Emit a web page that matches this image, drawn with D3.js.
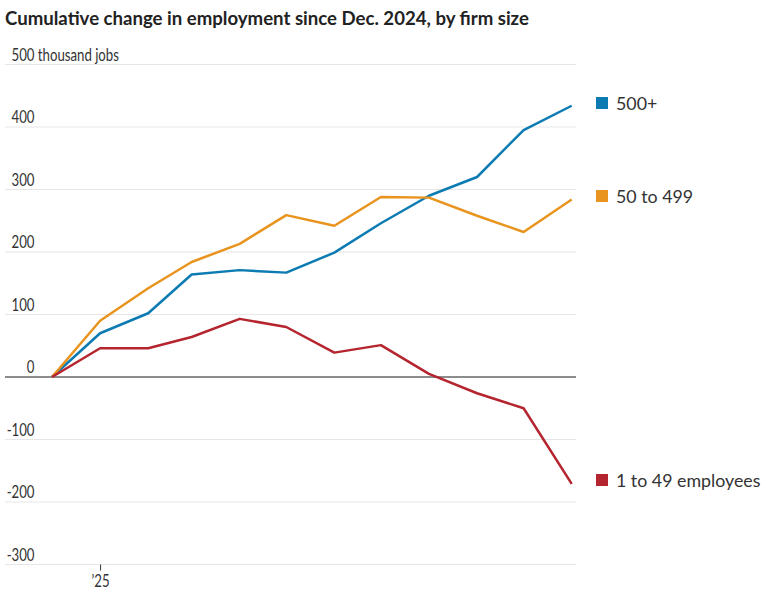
<!DOCTYPE html>
<html>
<head>
<meta charset="utf-8">
<script src="https://cdn.jsdelivr.net/npm/d3@7"></script>
<style>
  body { margin: 0; background: #fff; }
  svg { display: block; }
</style>
</head>
<body>
<div id="chart"></div>
<script>
// months, first of each month, Dec 2024 .. Nov 2025
var months = ['2024-12-01', '2025-01-01', '2025-02-01', '2025-03-01', '2025-04-01', '2025-05-01',
              '2025-06-01', '2025-07-01', '2025-08-01', '2025-09-01', '2025-10-01', '2025-11-01'];

// cumulative change, thousands of jobs
var large = [0, 70, 102, 164, 171, 167, 199, 246, 290, 320, 395, 434];
var medium = [0, 90, 142, 184, 213, 259, 242, 288, 287, 258, 232, 284];
var small = [0, 46, 46, 64, 93, 80, 39, 51, 5, -26, -50, -171];

var seriesNames = ['500+', '50 to 499', '1 to 49 employees'];
var yTicks = [-300, -200, -100, 0, 100, 200, 300, 400, 500];
var xTickLabels = ['\u201925'];

var width = 766;
var height = 594;
var colors = ['#0c7bb2', '#e8941f', '#b5252f'];

var parse = d3.timeParse('%Y-%m-%d');
var dates = months.map(parse);
var series = [large, medium, small];

var x = d3.scaleTime()
    .domain([dates[0], dates[dates.length - 1]])
    .range([52, 571.7]);

var y = d3.scaleLinear()
    .domain([0, 500])
    .range([377, 64.5]);

var svg = d3.select('#chart').append('svg')
    .attr('width', width)
    .attr('height', height);

//Title
svg.append('text')
    .attr('x', 5)
    .attr('y', 25)
    .attr('font-family', 'Lato')
    .attr('font-weight', 700)
    .attr('font-size', 18.6)
    .attr('fill', '#222')
    .text('Cumulative change in employment since Dec. 2024, by firm size');

//Gridlines
var grid = svg.append('g');
grid.selectAll('line').data(yTicks).enter().append('line')
    .attr('x1', 5)
    .attr('x2', 576)
    .attr('y1', function(d) { return y(d); })
    .attr('y2', function(d) { return y(d); })
    .attr('stroke', function(d) { return d === 0 ? '#666' : '#e6e6e6'; })
    .attr('stroke-width', function(d) { return d === 0 ? 1.5 : 1; });

//Y labels (narrowed to mimic the condensed face)
var squeeze = 0.8;
grid.selectAll('text').data(yTicks).enter().append('text')
    .attr('transform', function(d) {
        var tx = d === 500 ? 11.5 : 34.5;
        return 'translate(' + tx + ',' + (y(d) - 4) + ') scale(' + squeeze + ',1)';
    })
    .attr('text-anchor', function(d) { return d === 500 ? 'start' : 'end'; })
    .attr('font-family', 'Lato')
    .attr('font-size', 16.5)
    .attr('fill', '#333')
    .text(function(d) { return d === 500 ? '500 thousand jobs' : d; });

//X axis tick
var xAxis = d3.axisBottom(x)
    .tickValues([parse('2025-01-01')])
    .tickSize(6)
    .tickPadding(5)
    .tickFormat(function(d, i) { return xTickLabels[i]; });

var xg = svg.append('g')
    .attr('transform', 'translate(0,' + y(-300) + ')')
    .call(xAxis);
xg.select('.domain').remove();
xg.selectAll('line').attr('stroke', '#333');
xg.selectAll('text')
    .attr('font-family', 'Lato')
    .attr('font-size', 16.5)
    .attr('fill', '#333')
    .attr('transform', 'scale(' + squeeze + ',1)')
    .attr('x', function() { return 0; });
// keep tick label centred on its tick after squeezing
xg.selectAll('.tick text').attr('transform', 'scale(' + squeeze + ',1)');

//Lines
var line = d3.line()
    .x(function(d, i) { return x(dates[i]); })
    .y(function(d) { return y(d); });

svg.selectAll('.series').data(series).enter().append('path')
    .attr('class', 'series')
    .attr('d', line)
    .attr('fill', 'none')
    .attr('stroke', function(d, i) { return colors[i]; })
    .attr('stroke-width', 2.5)
    .attr('stroke-linejoin', 'round');

//Legend at line ends
var legendY = [103, 196, 480];
var legend = svg.selectAll('.legend').data(seriesNames).enter().append('g')
    .attr('class', 'legend')
    .attr('transform', function(d, i) { return 'translate(596,' + legendY[i] + ')'; });

legend.append('rect')
    .attr('x', 0)
    .attr('y', -6)
    .attr('width', 12)
    .attr('height', 12)
    .attr('fill', function(d, i) { return colors[i]; });

legend.append('text')
    .attr('x', 20)
    .attr('y', 6.5)
    .attr('font-family', 'Lato')
    .attr('font-size', 17.8)
    .attr('fill', '#333')
    .text(function(d) { return d; });
</script>
</body>
</html>
